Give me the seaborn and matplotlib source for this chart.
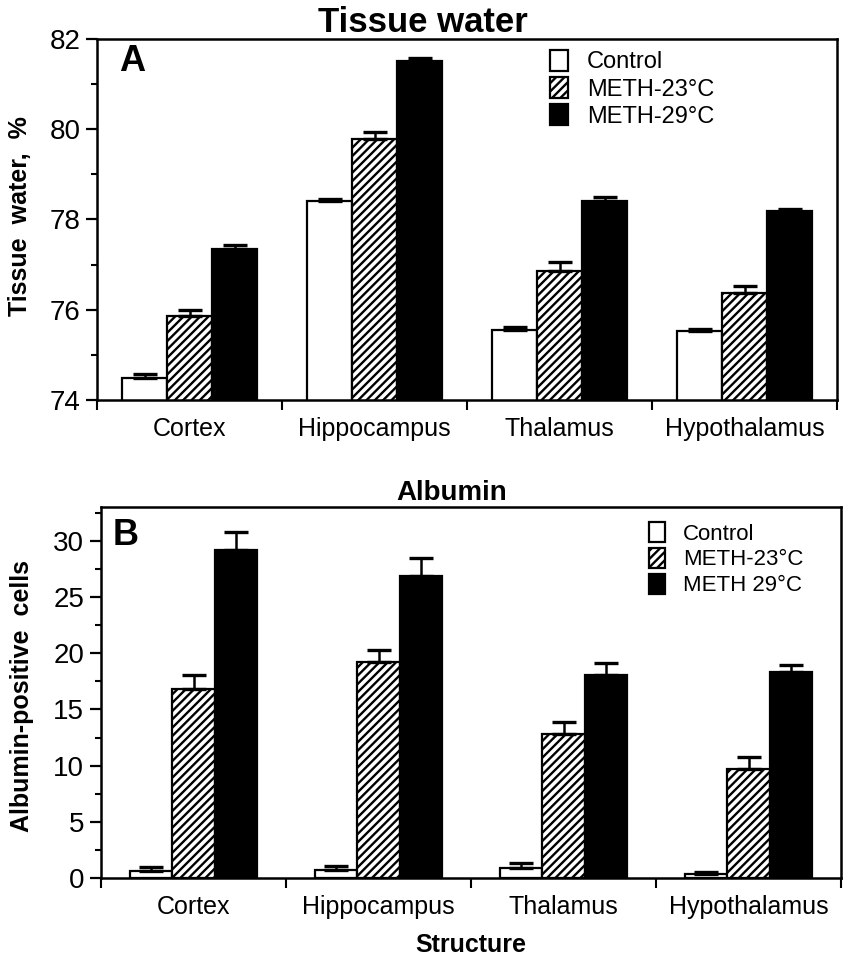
import numpy as np
import pandas as pd
import matplotlib
matplotlib.use("Agg")
import matplotlib.pyplot as plt
from matplotlib.ticker import MultipleLocator
import seaborn as sns

# Brain regions (x categories)
regions = ["Cortex", "Hippocampus", "Thalamus", "Hypothalamus"]

# Panel A: tissue water, %
water_groups = ["Control", "METH-23°C", "METH-29°C"]
water_control = [74.49, 78.41, 75.56, 75.53]
water_meth23 = [75.86, 79.79, 76.86, 76.38]
water_meth29 = [77.35, 81.52, 78.41, 78.19]
water_control_err = [0.08, 0.05, 0.06, 0.05]
water_meth23_err = [0.14, 0.15, 0.19, 0.14]
water_meth29_err = [0.08, 0.05, 0.08, 0.04]

# Panel B: albumin-positive cells
alb_groups = ["Control", "METH-23°C", "METH 29°C"]
alb_control = [0.6, 0.7, 0.9, 0.35]
alb_meth23 = [16.8, 19.25, 12.8, 9.7]
alb_meth29 = [29.2, 26.9, 18.1, 18.3]
alb_control_err = [0.4, 0.35, 0.4, 0.2]
alb_meth23_err = [1.3, 1.05, 1.1, 1.1]
alb_meth29_err = [1.6, 1.6, 1.0, 0.7]

sns.set_theme(style="ticks")
plt.rcParams["font.family"] = ["Liberation Sans", "DejaVu Sans"]
plt.rcParams["hatch.linewidth"] = 1.7
for key in ["text.color", "axes.labelcolor", "xtick.color", "ytick.color"]:
    plt.rcParams[key] = "black"


def draw_panel(ax, groups, series, errs, width, ylim, major, minor,
               ylabel, label_xy, letter, letter_xy, legend_anchor, legend_fs):
    df = pd.DataFrame({
        "Structure": regions * len(groups),
        "value": np.concatenate(series),
        "group": np.repeat(groups, len(regions)),
    })
    sns.barplot(
        data=df, x="Structure", y="value", hue="group",
        order=regions, hue_order=groups,
        palette=dict(zip(groups, ["white", "white", "black"])),
        edgecolor="black", linewidth=1.6, width=width, saturation=1,
        errorbar=None, legend=False, ax=ax,
    )
    # striped middle series
    for bar in ax.containers[1]:
        bar.set_hatch("////")

    # one-sided error bars on top of each bar
    for cont, err in zip(ax.containers, errs):
        for bar, e in zip(cont, err):
            x = bar.get_x() + bar.get_width() / 2
            ax.errorbar(x, bar.get_height(), yerr=[[0], [e]], fmt="none",
                        ecolor="black", elinewidth=1.8, capsize=8.5,
                        capthick=2.4, zorder=5)

    ax.set_ylim(*ylim)
    ax.set_xlim(-0.5, len(regions) - 0.5)
    ax.yaxis.set_major_locator(MultipleLocator(major))
    ax.yaxis.set_minor_locator(MultipleLocator(minor))
    ax.set_xticks(range(len(regions)))
    ax.set_xticklabels(regions, fontsize=18)
    ax.set_xticks(np.arange(-0.5, len(regions)), minor=True)
    ax.tick_params(axis="x", which="major", length=0, pad=12)
    ax.tick_params(axis="x", which="minor", length=7, width=1.5,
                   direction="out", bottom=True)
    ax.tick_params(axis="y", which="major", length=8, width=1.6,
                   direction="out", labelsize=20, pad=4)
    ax.tick_params(axis="y", which="minor", length=4, width=1.5,
                   direction="out", left=True)
    for s in ax.spines.values():
        s.set_visible(True)
        s.set_linewidth(1.8)
        s.set_color("black")

    ax.set_xlabel("")
    ax.set_ylabel(ylabel, fontsize=18, fontweight="bold")
    ax.yaxis.set_label_coords(*label_xy)
    ax.text(*letter_xy, letter, transform=ax.transAxes, fontsize=26,
            fontweight="bold", va="top", ha="left")

    ax.legend(handles=ax.containers, labels=groups, loc="upper left",
              bbox_to_anchor=legend_anchor, frameon=False, fontsize=legend_fs,
              handlelength=0.75, handleheight=1.0, handletextpad=0.8,
              labelspacing=0.15, borderaxespad=0, borderpad=0)


fig = plt.figure(figsize=(8.49, 9.63), dpi=100)
ax1 = fig.add_axes([0.1143, 0.5846, 0.872, 0.375])
ax2 = fig.add_axes([0.119, 0.0883, 0.8716, 0.385])

draw_panel(ax1, water_groups,
           [water_control, water_meth23, water_meth29],
           [water_control_err, water_meth23_err, water_meth29_err],
           0.73, (74, 82), 2, 1, "Tissue  water,  %", (-0.088, 0.51),
           "A", (0.03, 0.985), (0.612, 0.97), 17)

draw_panel(ax2, alb_groups,
           [alb_control, alb_meth23, alb_meth29],
           [alb_control_err, alb_meth23_err, alb_meth29_err],
           0.69, (0, 33), 5, 2.5, "Albumin-positive  cells", (-0.09, 0.49),
           "B", (0.015, 0.97), (0.74, 0.96), 16)

ax2.set_xlabel("Structure", fontsize=18, fontweight="bold", labelpad=10)

fig.text(0.498, 1 - 32 / 963, "Tissue water", fontsize=25, fontweight="bold",
         ha="center", va="baseline")
fig.text(0.532, 1 - 500 / 963, "Albumin", fontsize=20, fontweight="bold",
         ha="center", va="baseline")

fig.savefig("out.png", dpi=100)
